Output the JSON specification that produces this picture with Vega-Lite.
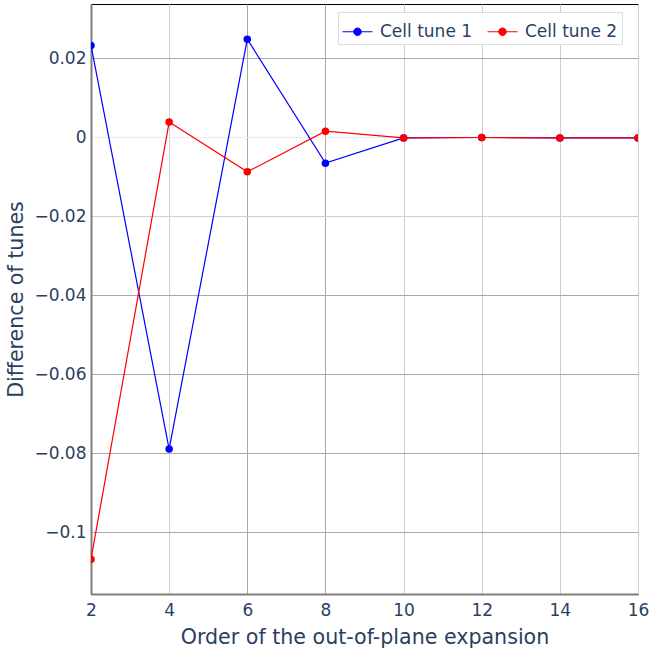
{
  "$schema": "https://vega.github.io/schema/vega-lite/v6.json",
  "width": 547,
  "height": 590,
  "autosize": {"type": "none"},
  "padding": {"left": 91, "top": 4, "right": 13, "bottom": 63},
  "background": "white",
  "config": {
    "font": "DejaVu Sans",
    "view": {"stroke": "#000000", "strokeWidth": 1}
  },
  "data": {
    "values": [
      {"order": 2, "diff": 0.0233, "series": "Cell tune 1"},
      {"order": 4, "diff": -0.0789, "series": "Cell tune 1"},
      {"order": 6, "diff": 0.0249, "series": "Cell tune 1"},
      {"order": 8, "diff": -0.0065, "series": "Cell tune 1"},
      {"order": 10, "diff": -0.0001, "series": "Cell tune 1"},
      {"order": 12, "diff": 0.0, "series": "Cell tune 1"},
      {"order": 14, "diff": -0.0001, "series": "Cell tune 1"},
      {"order": 16, "diff": -0.0001, "series": "Cell tune 1"},
      {"order": 2, "diff": -0.1068, "series": "Cell tune 2"},
      {"order": 4, "diff": 0.0039, "series": "Cell tune 2"},
      {"order": 6, "diff": -0.0087, "series": "Cell tune 2"},
      {"order": 8, "diff": 0.0016, "series": "Cell tune 2"},
      {"order": 10, "diff": -0.0001, "series": "Cell tune 2"},
      {"order": 12, "diff": 0.0, "series": "Cell tune 2"},
      {"order": 14, "diff": -0.0001, "series": "Cell tune 2"},
      {"order": 16, "diff": -0.0001, "series": "Cell tune 2"}
    ]
  },
  "encoding": {
    "x": {
      "field": "order",
      "type": "quantitative",
      "scale": {"domain": [2, 16], "nice": false, "zero": false},
      "axis": {
        "title": "Order of the out-of-plane expansion",
        "values": [2, 4, 6, 8, 10, 12, 14, 16],
        "format": "d",
        "ticks": false,
        "domain": true,
        "domainColor": "#7f7f7f",
        "domainWidth": 2,
        "grid": true,
        "gridColor": {
          "condition": {"test": "datum.value === 6 || datum.value === 8", "value": "#a9a9a9"},
          "value": "#cfcfcf"
        },
        "gridWidth": 1,
        "labelFontSize": 17,
        "labelColor": "#2a3f5f",
        "labelPadding": 8,
        "labelFlush": false,
        "titleFontSize": 20.6,
        "titleFontWeight": "normal",
        "titleColor": "#2a3f5f",
        "titlePadding": 9
      }
    },
    "y": {
      "field": "diff",
      "type": "quantitative",
      "scale": {"domain": [-0.1156, 0.0338], "nice": false, "zero": false},
      "axis": {
        "title": "Difference of tunes",
        "values": [-0.1, -0.08, -0.06, -0.04, -0.02, 0, 0.02],
        "format": "~g",
        "ticks": false,
        "domain": true,
        "domainColor": "#7f7f7f",
        "domainWidth": 2,
        "grid": true,
        "gridColor": {
          "condition": [
            {"test": "datum.value === 0", "value": "#ebebeb"},
            {"test": "datum.value === -0.02", "value": "#cfcfcf"}
          ],
          "value": "#a9a9a9"
        },
        "gridWidth": 1,
        "labelFontSize": 17,
        "labelColor": "#2a3f5f",
        "labelPadding": 5,
        "titleFontSize": 20.6,
        "titleFontWeight": "normal",
        "titleColor": "#2a3f5f",
        "titlePadding": 7
      }
    },
    "color": {
      "field": "series",
      "type": "nominal",
      "scale": {"domain": ["Cell tune 1", "Cell tune 2"], "range": ["#0000ff", "#ff0000"]},
      "legend": {
        "title": null,
        "orient": "none",
        "legendX": 247,
        "legendY": 8,
        "direction": "horizontal",
        "columns": 2,
        "fillColor": "#ffffff",
        "strokeColor": "#dddddd",
        "padding": 4,
        "columnPadding": 12,
        "symbolType": "M-1,0L1,0M0.25,0A0.25,0.25,0,1,1,-0.25,0A0.25,0.25,0,1,1,0.25,0Z",
        "symbolSize": 900,
        "symbolStrokeWidth": 1,
        "symbolOpacity": 1,
        "labelFontSize": 17,
        "labelColor": "#2a3f5f",
        "labelOffset": 7,
        "encode": {
          "symbols": {
            "update": {
              "fill": {"scale": "color", "field": "value"},
              "stroke": {"scale": "color", "field": "value"}
            }
          }
        }
      }
    }
  },
  "layer": [
    {"mark": {"type": "line", "strokeWidth": 1.2, "clip": true}},
    {"mark": {"type": "point", "filled": true, "size": 56, "opacity": 1, "clip": true}}
  ]
}
